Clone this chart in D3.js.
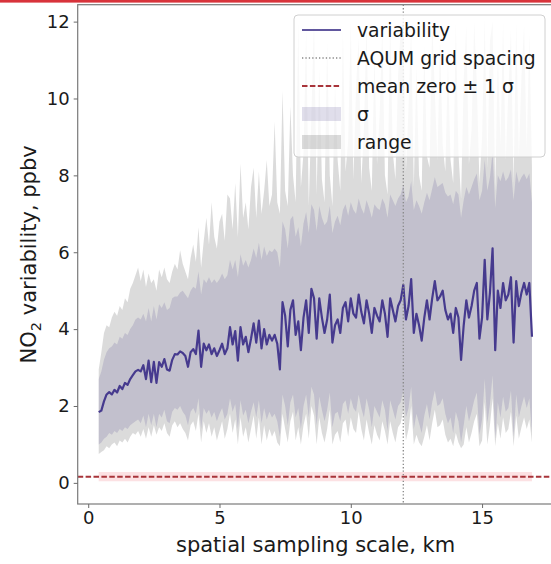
<!DOCTYPE html>
<html><head><meta charset="utf-8">
<script src="https://cdn.jsdelivr.net/npm/d3@7"></script>
<style>html,body{margin:0;background:#fff;overflow:hidden}svg{display:block;font-family:"DejaVu Sans",sans-serif}</style>
</head><body><svg id="chart" width="551" height="564"></svg>
<script>
const scaleKm = [0.4,0.5,0.6,0.7,0.8,0.9,1.0,1.1,1.2,1.3,1.4,1.5,1.6,1.7,1.8,1.9,2.0,2.1,2.2,2.3,2.4,2.5,2.6,2.7,2.8,2.9,3.0,3.1,3.2,3.3,3.4,3.5,3.6,3.7,3.8,3.9,4.0,4.1,4.2,4.3,4.4,4.5,4.6,4.7,4.8,4.9,5.0,5.1,5.2,5.3,5.4,5.5,5.6,5.7,5.8,5.9,6.0,6.1,6.2,6.3,6.4,6.5,6.6,6.7,6.8,6.9,7.0,7.1,7.2,7.3,7.4,7.5,7.6,7.7,7.8,7.9,8.0,8.1,8.2,8.3,8.4,8.5,8.6,8.7,8.8,8.9,9.0,9.1,9.2,9.3,9.4,9.5,9.6,9.7,9.8,9.9,10.0,10.1,10.2,10.3,10.4,10.5,10.6,10.7,10.8,10.9,11.0,11.1,11.2,11.3,11.4,11.5,11.6,11.7,11.8,11.9,12.0,12.1,12.2,12.3,12.4,12.5,12.6,12.7,12.8,12.9,13.0,13.1,13.2,13.3,13.4,13.5,13.6,13.7,13.8,13.9,14.0,14.1,14.2,14.3,14.4,14.5,14.6,14.7,14.8,14.9,15.0,15.1,15.2,15.3,15.4,15.5,15.6,15.7,15.8,15.9,16.0,16.1,16.2,16.3,16.4,16.5,16.6,16.7,16.8,16.9];
const variability = [
1.84,1.88,2.12,2.30,2.36,2.30,2.42,2.35,2.52,2.44,
2.60,2.55,2.70,2.80,2.90,2.94,2.90,3.06,2.70,3.18,
2.62,3.15,2.60,3.14,3.02,3.22,2.95,2.92,3.20,3.35,
3.34,3.42,3.38,3.30,3.02,3.40,3.48,3.35,3.96,3.02,
3.62,3.45,3.60,3.35,3.50,3.30,3.45,3.62,3.35,3.50,
4.05,3.60,3.95,3.18,4.05,3.60,3.80,3.40,3.75,4.15,
3.65,4.22,3.50,4.00,3.60,3.85,3.70,3.85,3.62,2.95,
4.70,4.35,3.55,4.50,4.75,3.85,4.20,3.45,4.30,4.75,
3.90,5.05,4.80,3.75,4.80,4.30,3.90,4.25,4.90,3.65,
4.10,4.25,3.90,4.55,4.70,4.20,4.80,4.40,4.30,4.90,
4.45,4.15,4.75,4.40,3.90,4.55,4.35,4.20,4.75,4.40,
3.80,4.80,4.50,4.20,4.60,4.75,5.15,4.25,4.60,5.30,
3.90,4.40,4.10,3.70,4.30,4.75,4.25,4.80,5.25,4.75,
4.85,5.00,4.50,4.25,4.40,3.90,4.55,4.30,3.20,4.10,
4.75,4.30,4.60,5.00,5.20,3.75,4.30,5.80,4.25,4.95,
6.10,3.45,5.00,4.55,5.20,4.75,4.90,5.35,3.65,5.25,
4.60,4.95,5.20,4.90,5.20,3.80];
const sigmaHigh = [
2.70,2.90,3.20,3.40,3.50,3.55,3.65,3.60,3.80,3.75,
3.90,3.85,4.00,4.10,4.25,4.30,4.25,4.40,4.20,4.55,
4.20,4.60,4.25,4.65,4.55,4.70,4.50,4.55,4.80,4.85,
4.85,4.95,5.00,4.90,4.80,5.00,5.10,5.05,5.50,4.90,
5.30,5.20,5.35,5.20,5.30,5.20,5.30,5.45,5.30,5.40,
5.80,5.55,5.80,5.35,5.95,5.65,5.80,5.60,5.80,6.10,
5.85,6.25,5.80,6.15,5.90,6.05,6.00,6.10,6.00,5.60,
6.80,6.60,6.10,6.85,6.95,6.40,6.65,6.15,6.75,7.05,
6.50,7.25,7.10,6.55,7.20,6.90,6.70,6.80,7.20,6.50,
6.80,6.95,6.70,7.10,7.25,6.95,7.30,7.10,7.00,7.40,
7.15,7.00,7.35,7.15,6.90,7.25,7.15,7.10,7.40,7.25,
6.90,7.50,7.35,7.20,7.40,7.50,7.75,7.30,7.45,7.85,
7.10,7.35,7.20,7.00,7.30,7.55,7.35,7.65,7.95,7.70,
7.75,7.80,7.55,7.45,7.50,7.25,7.60,7.50,6.90,7.35,
7.70,7.50,7.70,7.90,8.05,7.35,7.60,8.40,7.60,7.95,
8.60,7.15,8.00,7.85,8.10,7.85,7.95,8.15,7.35,8.10,
7.80,7.95,8.05,7.90,8.05,7.30];
const sigmaLow = [
1.00,1.05,1.15,1.20,1.30,1.25,1.35,1.30,1.40,1.35,
1.45,1.40,1.50,1.55,1.60,1.65,1.55,1.75,1.45,1.80,
1.50,1.80,1.45,1.80,1.70,1.90,1.60,1.55,1.85,1.95,
1.90,2.00,1.85,1.75,1.50,1.85,1.95,1.80,2.20,1.40,
1.95,1.80,1.90,1.70,1.85,1.60,1.80,1.95,1.65,1.80,
2.20,1.85,2.05,1.40,2.15,1.75,1.90,1.55,1.85,2.10,
1.70,2.15,1.55,1.95,1.65,1.85,1.70,1.80,1.60,1.20,
2.30,2.00,1.50,2.10,2.30,1.70,1.95,1.40,2.00,2.30,
1.70,2.50,2.30,1.50,2.25,1.90,1.60,1.90,2.35,1.45,
1.80,1.85,1.60,2.05,2.15,1.80,2.20,1.95,1.85,2.30,
1.95,1.70,2.20,1.90,1.45,2.00,1.85,1.70,2.15,1.90,
1.35,2.15,1.90,1.65,2.00,2.10,2.40,1.70,1.95,2.50,
1.40,1.80,1.55,1.30,1.75,2.05,1.65,2.10,2.40,2.00,
2.05,2.20,1.80,1.55,1.70,1.30,1.85,1.60,1.05,1.50,
2.00,1.60,1.85,2.15,2.35,1.25,1.65,2.70,1.55,2.05,
2.80,1.15,2.10,1.70,2.25,1.85,1.95,2.40,1.20,2.30,
1.70,2.00,2.25,1.95,2.20,1.30];
const rangeHigh = [
2.95,3.40,3.90,4.10,4.05,4.30,4.45,4.35,4.60,4.50,
4.80,4.70,5.05,5.20,5.40,5.60,5.25,5.55,5.10,5.45,
5.20,5.30,5.00,5.55,5.35,5.60,5.30,5.20,5.50,5.70,
5.55,6.05,5.70,5.50,5.30,5.85,6.20,5.75,6.65,5.60,
6.30,6.90,6.20,7.30,6.40,6.10,6.80,7.00,6.30,7.50,
7.40,6.60,7.80,6.40,8.30,6.90,7.30,6.60,7.70,8.20,
6.90,8.10,7.00,7.60,8.40,7.20,7.50,9.40,7.30,7.00,
10.20,7.60,7.20,9.80,8.00,7.30,12.00,7.70,8.60,11.80,
7.20,9.60,12.10,7.50,10.80,7.90,7.30,11.50,8.00,7.20,
10.40,8.40,7.60,11.80,8.10,8.90,12.00,7.90,10.30,11.60,
7.80,9.20,12.00,8.20,7.60,11.20,8.30,9.60,11.90,8.00,
7.50,12.10,8.60,7.90,10.60,11.80,12.00,8.10,9.80,11.90,
7.70,10.90,8.00,7.60,11.40,8.50,8.20,12.00,10.20,8.40,
11.60,8.80,8.10,11.00,8.40,7.80,12.00,8.60,7.40,10.50,
11.90,8.30,9.20,12.00,10.40,7.80,9.00,12.10,8.20,11.50,
12.00,7.60,11.20,8.80,12.00,8.40,10.20,11.80,7.80,12.00,
8.50,10.60,11.90,8.70,11.70,8.20];
const rangeLow = [
0.75,0.80,0.85,0.95,0.90,1.00,1.05,0.95,1.10,1.05,
1.15,1.05,1.20,1.30,1.25,1.35,1.20,1.40,1.15,1.45,
1.20,1.50,1.25,1.45,1.35,1.55,1.30,1.20,1.50,1.60,
1.45,1.55,1.40,1.30,1.10,1.50,1.60,1.35,1.80,1.05,
1.60,1.30,1.55,1.20,1.45,1.10,1.35,1.60,1.15,1.40,
1.80,1.30,1.65,1.00,1.70,1.20,1.45,1.05,1.40,1.75,
1.15,1.70,1.00,1.50,1.10,1.40,1.20,1.35,1.05,0.95,
1.80,1.40,1.05,1.60,1.85,1.10,1.45,1.00,1.50,1.80,
1.15,2.00,1.75,1.00,1.70,1.30,1.05,1.40,1.90,1.00,
1.25,1.35,1.05,1.55,1.65,1.20,1.70,1.40,1.30,1.85,
1.40,1.10,1.65,1.30,1.00,1.50,1.25,1.10,1.60,1.35,
1.00,1.60,1.30,1.05,1.45,1.55,1.90,1.10,1.40,2.00,
1.00,1.25,1.05,0.95,1.20,1.50,1.10,1.55,1.90,1.45,
1.50,1.65,1.25,1.05,1.15,0.95,1.30,1.05,0.90,1.00,
1.45,1.05,1.30,1.60,1.80,0.95,1.10,2.10,1.00,1.50,
2.20,0.95,1.55,1.15,1.70,1.30,1.40,1.85,0.95,1.75,
1.15,1.45,1.70,1.40,1.65,1.05];
const xTicks = [0, 5, 10, 15];
const yTicks = [0, 2, 4, 6, 8, 10, 12];
const gridSpacingKm = 12;
const meanZero = 0.16;
const meanZeroSigma = 0.12;
const legendLabels = ["variability", "AQUM grid spacing", "mean zero \u00b1 1 \u03c3", "\u03c3", "range"];
const xLabel = "spatial sampling scale, km";

const svg = d3.select("#chart");
const L = 77.7, R = 553.5, T = 4.7, B = 504;
const x = d3.scaleLinear().domain([-0.40, 17.72]).range([L, R]);
const y = d3.scaleLinear().domain([-0.55, 12.44]).range([B, T]);

const lineColor = "#463a8e";
const sigmaFill = "rgba(72,61,139,0.17)";
const rangeFill = "rgba(0,0,0,0.14)";
const redColor = "#a8343a";
const gridColor = "#888";

// top red strip (crop artifact of the source)
svg.append("rect").attr("x", 0).attr("y", 0).attr("width", 551).attr("height", 2.6).attr("fill", "#d8333b");

svg.append("clipPath").attr("id", "clip").append("rect")
  .attr("x", L).attr("y", T).attr("width", R - L).attr("height", B - T);
const g = svg.append("g").attr("clip-path", "url(#clip)");

const idx = d3.range(scaleKm.length);
g.append("path")
  .attr("d", d3.area().x(i => x(scaleKm[i])).y0(i => y(rangeLow[i])).y1(i => y(rangeHigh[i]))(idx))
  .attr("fill", rangeFill);
g.append("path")
  .attr("d", d3.area().x(i => x(scaleKm[i])).y0(i => y(sigmaLow[i])).y1(i => y(sigmaHigh[i]))(idx))
  .attr("fill", sigmaFill);
g.append("path")
  .attr("d", d3.line().x(i => x(scaleKm[i])).y(i => y(variability[i]))(idx))
  .attr("fill", "none").attr("stroke", lineColor).attr("stroke-width", 2.2).attr("stroke-linejoin", "round");

// mean zero +/- sigma band
g.append("path")
  .attr("d", d3.area().x(i => x(scaleKm[i])).y0(() => y(meanZero - meanZeroSigma)).y1(() => y(meanZero + meanZeroSigma))(idx))
  .attr("fill", "rgba(235,70,80,0.16)");
g.append("line")
  .attr("x1", L).attr("x2", R).attr("y1", y(meanZero)).attr("y2", y(meanZero))
  .attr("stroke", redColor).attr("stroke-width", 1.9).attr("stroke-dasharray", "5.5,2.4");
g.append("line")
  .attr("x1", x(gridSpacingKm)).attr("x2", x(gridSpacingKm)).attr("y1", T).attr("y2", B)
  .attr("stroke", gridColor).attr("stroke-width", 1.3).attr("stroke-dasharray", "1.3,2.1");

// frame
svg.append("rect").attr("x", L).attr("y", T).attr("width", R - L).attr("height", B - T)
  .attr("fill", "none").attr("stroke", "#7a7a7a").attr("stroke-width", 1.2);

const xAxis = svg.append("g").attr("transform", `translate(0,${B})`)
  .call(d3.axisBottom(x).tickValues(xTicks).tickSize(4).tickPadding(3.5).tickFormat(d3.format("d")));
const yAxis = svg.append("g").attr("transform", `translate(${L},0)`)
  .call(d3.axisLeft(y).tickValues(yTicks).tickSize(4).tickPadding(4).tickFormat(d3.format("d")));
[xAxis, yAxis].forEach(a => {
  a.select(".domain").remove();
  a.selectAll(".tick line").attr("stroke", "#6a6a6a").attr("stroke-width", 1);
  a.selectAll(".tick text").attr("fill", "#1a1a1a").style("font-size", "18px").style("font-family", "DejaVu Sans");
});

svg.append("text").attr("x", (L + R) / 2).attr("y", 552).attr("text-anchor", "middle")
  .attr("fill", "#1a1a1a").style("font-size", "21px").text(xLabel);
const yl = svg.append("text").attr("transform", `translate(36,${(T + B) / 2}) rotate(-90)`)
  .attr("text-anchor", "middle").attr("fill", "#1a1a1a").style("font-size", "21px");
yl.append("tspan").text("NO");
yl.append("tspan").attr("dy", 5).style("font-size", "14.5px").text("2");
yl.append("tspan").attr("dy", -5).text(" variability, ppbv");

// legend
const lg = svg.append("g");
lg.append("rect").attr("x", 294).attr("y", 15).attr("width", 251).attr("height", 142).attr("rx", 4)
  .attr("fill", "rgba(255,255,255,0.8)").attr("stroke", "#d0d0d0").attr("stroke-width", 1);
const rowY = i => 30 + i * 28;
const hx0 = 302, hx1 = 341, tx = 357;
lg.append("line").attr("x1", hx0).attr("x2", hx1).attr("y1", rowY(0)).attr("y2", rowY(0))
  .attr("stroke", lineColor).attr("stroke-width", 2.2).attr("opacity", 0.85);
lg.append("line").attr("x1", hx0).attr("x2", hx1).attr("y1", rowY(1)).attr("y2", rowY(1))
  .attr("stroke", gridColor).attr("stroke-width", 1.3).attr("stroke-dasharray", "1.3,2.1");
lg.append("line").attr("x1", hx0).attr("x2", hx1).attr("y1", rowY(2)).attr("y2", rowY(2))
  .attr("stroke", redColor).attr("stroke-width", 1.9).attr("stroke-dasharray", "5.5,2.4");
lg.append("rect").attr("x", hx0).attr("y", rowY(3) - 7).attr("width", hx1 - hx0).attr("height", 14).attr("fill", sigmaFill);
lg.append("rect").attr("x", hx0).attr("y", rowY(4) - 7).attr("width", hx1 - hx0).attr("height", 14).attr("fill", rangeFill);
legendLabels.forEach((t, i) => {
  lg.append("text").attr("x", tx).attr("y", rowY(i)).attr("dy", "0.35em")
    .attr("fill", "#1a1a1a").style("font-size", "18.8px").text(t);
});
</script></body></html>
